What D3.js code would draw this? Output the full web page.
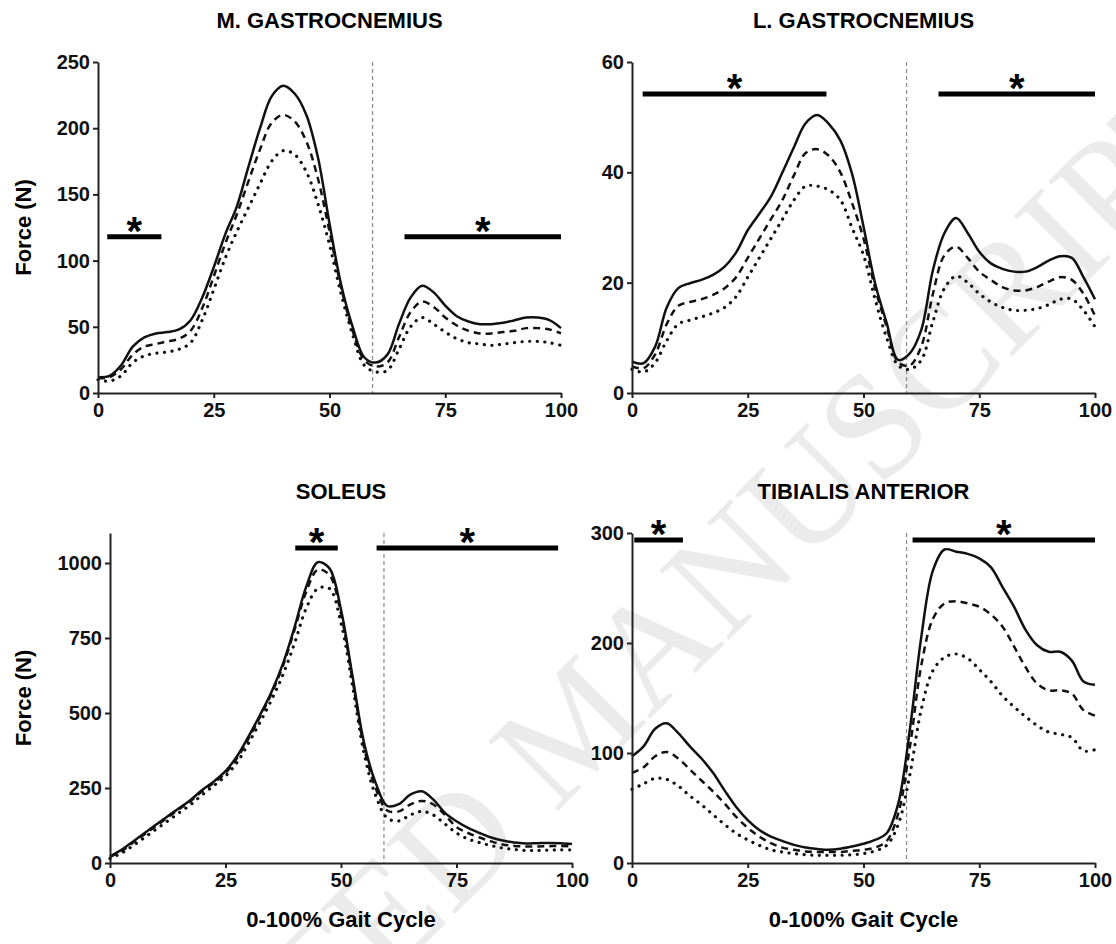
<!DOCTYPE html>
<html>
<head>
<meta charset="utf-8">
<script src="https://cdn.jsdelivr.net/npm/d3@7"></script>
<style>
  body { margin: 0; background: #fff; }
  svg { display: block; }
</style>
</head>
<body>
<script>
// % of gait cycle (shared x grid for every curve)
const pct = [0,2.5,5,7.5,10,12.5,15,17.5,20,22.5,25,27.5,30,32.5,35,37.5,40,42.5,45,47.5,50,
  52.5,55,57.5,60,62.5,65,67.5,70,72.5,75,77.5,80,82.5,85,87.5,90,92.5,95,97.5,100];
const xTicks = [0, 25, 50, 75, 100];

// medial gastrocnemius
const mgSolid  = [12,13,21,35,42,45,46,48,55,72,95,120,141,171,200,224,232,226,210,178,128,
  82,50,27,23,29,52,72,81,76,66,58,54,52,52,53,55,57,57,55,49];
const mgDashed = [11,12,18,29,35,37,39,41,47,64,88,113,135,160,184,204,210,205,190,162,122,
  80,47,25,20,23,42,61,69,65,57,51,47,45,45,46,47,49,49,48,45];
const mgDotted = [10,9,13,23,28,30,31,33,38,55,78,102,122,140,158,175,183,180,167,143,112,
  75,44,21,16,17,33,50,57,52,46,41,38,37,36,37,38,39,39,38,36];
const mgTicks = [0, 50, 100, 150, 200, 250];
const mgSig = [[2, 13.7, 118], [66.2, 100, 118]];

// lateral gastrocnemius
const lgSolid  = [5.7,5.4,8.4,15.5,19,19.9,20.5,21.4,22.9,25.5,29.5,32.5,35.6,40,44.6,48.9,50.4,48.8,45.8,39.8,30.2,
  19.9,12.7,6,7.2,11.5,22.3,29,31.7,29,25.6,23.5,22.5,22,22,22.8,24,24.8,24.5,21,17];
const lgDashed = [4.8,4.5,7,12.5,15.8,16.5,17,17.8,19,21,24.5,28,31.5,35,39.5,43.5,44.2,43,40,34.5,28,
  19,12,5.6,5,8.5,18,25,26.5,24.5,22,20.5,19.2,18.6,18.6,19.2,20.2,21,20.5,18,14];
const lgDotted = [4.3,3.8,5.5,9.5,12.5,13.2,13.8,14.5,15.5,17.5,21,24.5,28,31.5,35,37.5,37.5,36.8,35,30,25,
  17,10,5,4.3,6,13,19,21.2,20,18,16.5,15.5,15,15,15.3,16,17,17,15,12];
const lgTicks = [0, 20, 40, 60];
const lgSig = [[2.3, 42, 54.2], [66.2, 100, 54.2]];

// soleus
const solSolid  = [22,44,72,100,128,156,183,211,244,272,306,356,422,494,572,667,789,922,1003,982,844,
  622,400,267,190,196,228,239,211,167,139,117,100,85,75,68,65,66,67,66,63];
const solDashed = [20,40,68,96,124,152,180,207,240,268,300,350,415,488,566,660,780,905,978,960,830,
  610,385,250,175,172,195,207,195,160,120,100,85,72,62,57,55,55,56,57,55];
const solDotted = [15,33,58,85,113,140,168,195,228,258,290,335,400,470,545,630,735,850,915,915,800,
  590,365,225,150,140,160,172,160,130,100,80,68,58,50,45,42,42,43,44,44];
const solTicks = [0, 250, 500, 750, 1000];
const solSig = [[40.1, 49.3, 1050], [57.7, 97, 1050]];

// tibialis anterior
const taSolid  = [97,106,122,127,118,106,95,82,66,51,39,30,24,20,16.5,14,12.7,12,13,15,17.5,
  21,27,54,121,206,266,285,283,281,277,269,251,233,212,198,192,192,184,165,162];
const taDashed = [82,87,97,101,95,85,75,65,54,42,32,24,18,14,12,10.5,10,10,10,11,12,
  14,20,45,105,180,222,236,238,236,233,226,215,197,178,163,157,157,154,139,134];
const taDotted = [67,72,77,76,70,61,53,44,35,27,21,16,12,10,8.5,7.5,7,7,7,7.5,8.5,
  11,16,35,80,140,175,187,190,186,176,165,152,142,133,125,119,117,114,102,103];
const taTicks = [0, 100, 200, 300];
const taSig = [[0.5, 11, 293.6], [60.6, 100, 293.6]];

const toeOff = 59.3; // dashed vertical marker

const W = 1116, H = 944;
const font = "'Liberation Sans', Arial, Helvetica, sans-serif";

const svg = d3.select("body").append("svg")
  .attr("width", W)
  .attr("height", H);

// faint manuscript watermark behind everything
svg.append("text")
  .attr("transform", "translate(585,735) rotate(-45)")
  .attr("text-anchor", "middle")
  .attr("dominant-baseline", "middle")
  .style("font-family", "'Liberation Serif', 'Times New Roman', serif")
  .style("font-size", "150px")
  .style("fill", "#ebebeb")
  .text("ACCEPTED MANUSCRIPT");

const panels = [
  { title: "M. GASTROCNEMIUS", box: [98, 561, 62, 393], ymax: 250, ticks: mgTicks,
    series: [mgSolid, mgDashed, mgDotted], sig: mgSig, ylabel: true, xlabel: false },
  { title: "L. GASTROCNEMIUS", box: [632, 1095, 62, 393], ymax: 60, ticks: lgTicks,
    series: [lgSolid, lgDashed, lgDotted], sig: lgSig, ylabel: false, xlabel: false },
  { title: "SOLEUS", box: [110, 572, 533, 863], ymax: 1100, ticks: solTicks,
    series: [solSolid, solDashed, solDotted], sig: solSig, ylabel: true, xlabel: true },
  { title: "TIBIALIS ANTERIOR", box: [632, 1095, 533, 863], ymax: 300, ticks: taTicks,
    series: [taSolid, taDashed, taDotted], sig: taSig, ylabel: false, xlabel: true }
];

const lineStyles = [
  { dash: null, width: 2.5, cap: "butt" },
  { dash: "7,5", width: 2.5, cap: "butt" },
  { dash: "0.1,7.5", width: 3.2, cap: "round" }
];

panels.forEach(p => {
  const [x0, x1, y0, y1] = p.box;
  const x = d3.scaleLinear().domain([0, 100]).range([x0, x1]);
  const y = d3.scaleLinear().domain([0, p.ymax]).range([y1, y0]);
  const g = svg.append("g");

  // toe-off marker
  g.append("line")
    .attr("x1", x(toeOff)).attr("x2", x(toeOff))
    .attr("y1", y(p.ymax)).attr("y2", y(0))
    .attr("stroke", "#8a8a8a")
    .attr("stroke-width", 1.2)
    .attr("stroke-dasharray", "4,3");

  const line = d3.line()
    .x((d, i) => x(pct[i]))
    .y(d => y(d))
    .curve(d3.curveCatmullRom.alpha(0.5));

  p.series.forEach((s, k) => {
    const st = lineStyles[k];
    g.append("path")
      .datum(s)
      .attr("d", line)
      .attr("fill", "none")
      .attr("stroke", "#111")
      .attr("stroke-width", st.width)
      .attr("stroke-linecap", st.cap)
      .attr("stroke-linejoin", "round")
      .attr("stroke-dasharray", st.dash);
  });

  // significance bars
  p.sig.forEach(s => {
    g.append("line")
      .attr("x1", x(s[0])).attr("x2", x(s[1]))
      .attr("y1", y(s[2])).attr("y2", y(s[2]))
      .attr("stroke", "#000")
      .attr("stroke-width", 5);
    g.append("text")
      .attr("x", x((s[0] + s[1]) / 2))
      .attr("y", y(s[2]) + 8)
      .attr("text-anchor", "middle")
      .style("font-family", font)
      .style("font-weight", "bold")
      .style("font-size", "40px")
      .text("*");
  });

  const yAxis = d3.axisLeft(y).tickValues(p.ticks).tickFormat(d3.format("d"))
    .tickSize(5).tickSizeOuter(0).tickPadding(3);
  const gy = g.append("g").attr("transform", `translate(${x0},0)`).call(yAxis);
  const xAxis = d3.axisBottom(x).tickValues(xTicks).tickSize(5).tickSizeOuter(0).tickPadding(5);
  const gx = g.append("g").attr("transform", `translate(0,${y1})`).call(xAxis);

  [gx, gy].forEach(a => {
    a.select(".domain").attr("stroke", "#222").attr("stroke-width", 2);
    a.selectAll(".tick line").attr("stroke", "#222").attr("stroke-width", 2);
    a.selectAll(".tick text")
      .attr("fill", "#111")
      .style("font-family", font)
      .style("font-weight", "bold")
      .style("font-size", "20px");
  });

  g.append("text")
    .attr("x", (x0 + x1) / 2)
    .attr("y", y0 - 34)
    .attr("text-anchor", "middle")
    .style("font-family", font)
    .style("font-weight", "bold")
    .style("font-size", "22px")
    .text(p.title);

  if (p.ylabel) {
    g.append("text")
      .attr("transform", `translate(31,${(y0 + y1) / 2}) rotate(-90)`)
      .attr("text-anchor", "middle")
      .style("font-family", font)
      .style("font-weight", "bold")
      .style("font-size", "22px")
      .text("Force (N)");
  }
  if (p.xlabel) {
    g.append("text")
      .attr("x", (x0 + x1) / 2)
      .attr("y", y1 + 64)
      .attr("text-anchor", "middle")
      .style("font-family", font)
      .style("font-weight", "bold")
      .style("font-size", "22px")
      .text("0-100% Gait Cycle");
  }
});
</script>
</body>
</html>
